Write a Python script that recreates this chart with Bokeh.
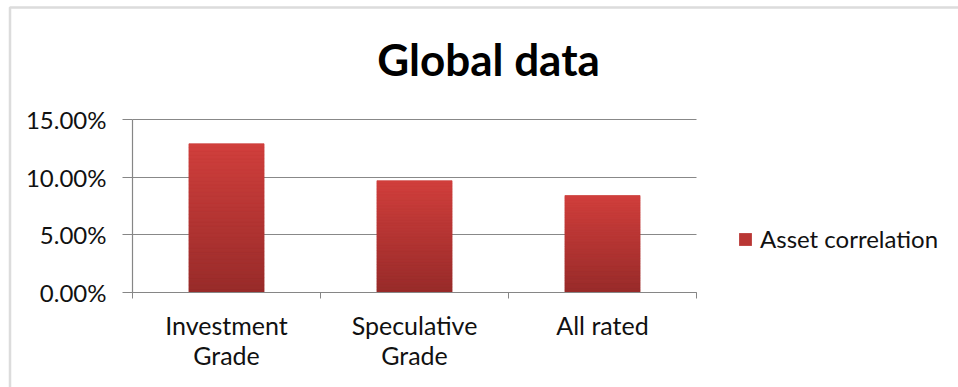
from bokeh.plotting import figure
from bokeh.models import (Range1d, FixedTicker, NumeralTickFormatter, Label,
                          Legend, LegendItem, PolyAnnotation)
from bokeh.embed import file_html
from bokeh.resources import INLINE

# ---- data ----
categories = ["Investment Grade", "Speculative Grade", "All rated"]
category_labels = ["Investment\nGrade", "Speculative\nGrade", "All rated"]
asset_correlation = [0.129, 0.097, 0.084]
y_ticks = [0.0, 0.05, 0.10, 0.15]
series_name = "Asset correlation"
title_text = "Global data"

# ---- layout (pixels) ----
W, H = 958, 387
PLOT_L, PLOT_R, PLOT_T, PLOT_B = 132, 696, 119, 292   # plot area inside the chart
FONT = "Lato"
AXIS_GREY = "#868686"

n_cat = len(categories)
y_max = y_ticks[-1]
px_x = (PLOT_R - PLOT_L) / n_cat          # pixels per category
px_y = (PLOT_B - PLOT_T) / y_max          # pixels per unit of y

# the frame covers the whole canvas; axes are pinned to the plot area
x_range = Range1d(-PLOT_L / px_x, n_cat + (W - PLOT_R) / px_x)
y_range = Range1d(-(H - PLOT_B) / px_y, y_max + PLOT_T / px_y)

p = figure(width=W, height=H, output_backend="svg", toolbar_location=None,
           x_range=x_range, y_range=y_range, min_border=0,
           min_border_left=0, min_border_right=0, min_border_top=0, min_border_bottom=0)
p.outline_line_color = None
p.background_fill_color = "white"
p.border_fill_color = "white"

centers = [i + 0.5 for i in range(n_cat)]
bounds = list(range(n_cat + 1))
bar_w = 0.4

# ---- grid ----
p.xgrid.visible = False
p.ygrid.ticker = FixedTicker(ticks=y_ticks)
p.ygrid.bounds = (y_ticks[0], y_max)
p.ygrid.cross_bounds = (0, n_cat)
p.ygrid.grid_line_color = "#888888"
p.ygrid.grid_line_width = 1.2

# base bars (also used for the legend swatch)
base = p.vbar(x=centers, top=asset_correlation, width=bar_w, bottom=0,
              fill_color="#b93634", line_color=None)

# vertical gradient on each bar, light red at the top to dark red at the bottom
top_rgb = (208, 63, 60)
bot_rgb = (152, 43, 42)
n_steps = 40
gx, gb, gt, gc = [], [], [], []
for x, v in zip(centers, asset_correlation):
    for k in range(n_steps):
        f = k / (n_steps - 1)
        rgb = tuple(int(round(b + (t - b) * f)) for b, t in zip(bot_rgb, top_rgb))
        gx.append(x)
        gb.append(v * k / n_steps)
        gt.append(v * (k + 1) / n_steps)
        gc.append("#%02x%02x%02x" % rgb)
p.vbar(x=gx, bottom=gb, top=gt, width=bar_w, fill_color=gc, line_color=gc, line_width=0.5)

# ---- axes ----
p.yaxis.fixed_location = 0
p.yaxis.bounds = (y_ticks[0], y_max)
p.yaxis.ticker = FixedTicker(ticks=y_ticks)
p.yaxis.formatter = NumeralTickFormatter(format="0.00%")
p.yaxis.axis_line_color = AXIS_GREY
p.yaxis.axis_line_width = 1.2
p.yaxis.major_tick_line_color = AXIS_GREY
p.yaxis.major_tick_out = 10
p.yaxis.major_tick_in = 0
p.yaxis.minor_tick_line_color = None
p.yaxis.major_label_standoff = 16
p.yaxis.major_label_text_font = FONT
p.yaxis.major_label_text_font_size = "24px"
p.yaxis.major_label_text_color = "#111111"

p.xaxis.fixed_location = 0
p.xaxis.bounds = (0, n_cat)
p.xaxis.ticker = FixedTicker(ticks=centers, minor_ticks=bounds)
p.xaxis.major_label_overrides = {c: lab for c, lab in zip(centers, category_labels)}
p.xaxis.axis_line_color = AXIS_GREY
p.xaxis.axis_line_width = 1.2
p.xaxis.major_tick_line_color = None
p.xaxis.minor_tick_line_color = AXIS_GREY
p.xaxis.minor_tick_out = 6
p.xaxis.minor_tick_in = 0
p.xaxis.major_label_standoff = 11
p.xaxis.major_label_text_font = FONT
p.xaxis.major_label_text_font_size = "25px"
p.xaxis.major_label_text_line_height = 1.0
p.xaxis.major_label_text_color = "#111111"

# ---- title ----
p.add_layout(Label(x=488, y=H - 58, x_units="screen", y_units="screen",
                   text=title_text, text_align="center", text_baseline="middle",
                   text_font=FONT, text_font_style="bold", text_font_size="44px",
                   text_color="black"))

# ---- legend ----
legend = Legend(items=[LegendItem(label=series_name, renderers=[base])],
                location=(737, H - 253),
                glyph_width=16, glyph_height=16, label_standoff=7,
                padding=0, margin=0, border_line_color=None,
                background_fill_alpha=0,
                label_text_font=FONT, label_text_font_size="24px",
                label_text_color="#111111")
p.add_layout(legend, "center")

# ---- chart border (top and left edges) ----
p.add_layout(PolyAnnotation(xs=[9.5, 9.5, W + 20, W + 20],
                            ys=[-20, H - 7, H - 7, -20],
                            xs_units="screen", ys_units="screen",
                            fill_alpha=0, line_color="#8a8a8a", line_width=2.5))

open("out.html", "w").write(file_html(p, INLINE))
